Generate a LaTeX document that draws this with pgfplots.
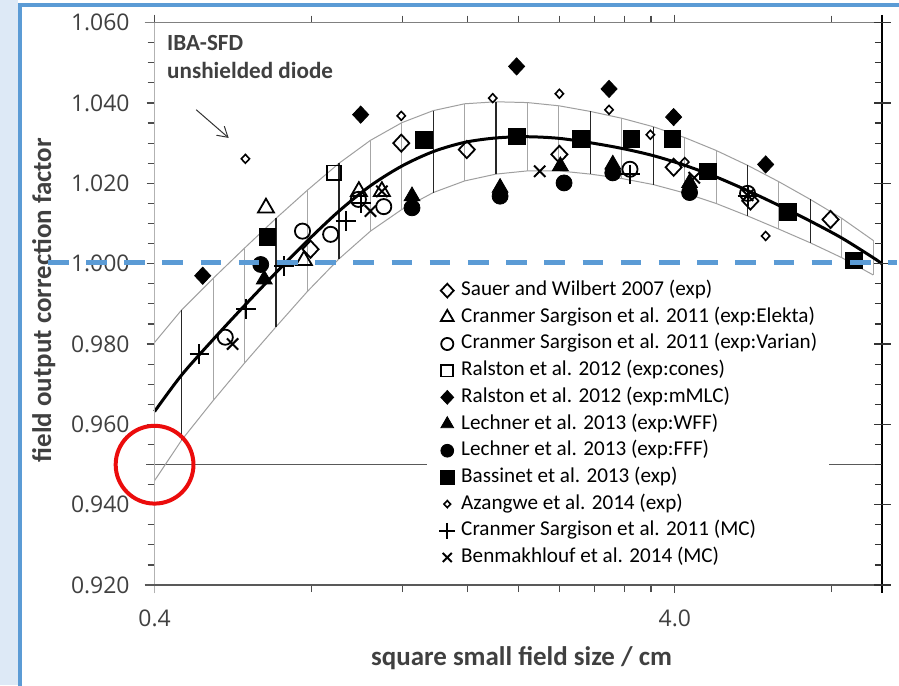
\documentclass[border=0pt]{standalone}
\usepackage{fontspec}
\setmainfont{Carlito}
\newfontfamily\tickfont{Open Sans}
\usepackage{pgfplots}
\pgfplotsset{compat=1.18}
\usepackage{pgfplotstable}
\usetikzlibrary{arrows.meta}

\definecolor{frameblue}{RGB}{91,155,213}
\definecolor{sideblue}{RGB}{221,233,246}
\definecolor{txtgray}{RGB}{64,64,64}
\definecolor{redring}{RGB}{235,12,12}

% fit curve, lower / upper limit of the band, half width
\pgfplotstableread{
x      c      lo     hi     h
0.400  0.9632 0.9460 0.9804 0.0172
0.451  0.9723 0.9561 0.9885 0.0162
0.519  0.9812 0.9660 0.9964 0.0152
0.596  0.9896 0.9753 1.0039 0.0143
0.685  0.9978 0.9843 1.0113 0.0135
0.787  1.0057 0.9931 1.0183 0.0126
0.905  1.0131 1.0012 1.0250 0.0119
1.040  1.0194 1.0081 1.0307 0.0113
1.195  1.0243 1.0135 1.0351 0.0108
1.373  1.0279 1.0177 1.0381 0.0102
1.578  1.0302 1.0206 1.0398 0.0096
1.813  1.0313 1.0223 1.0403 0.0090
2.084  1.0316 1.0231 1.0401 0.0085
2.395  1.0312 1.0231 1.0393 0.0081
2.752  1.0301 1.0223 1.0379 0.0078
3.163  1.0287 1.0212 1.0362 0.0075
3.635  1.0269 1.0197 1.0341 0.0072
4.177  1.0245 1.0176 1.0314 0.0069
4.800  1.0216 1.0150 1.0282 0.0066
5.517  1.0182 1.0119 1.0245 0.0063
6.340  1.0145 1.0086 1.0204 0.0059
7.286  1.0106 1.0052 1.0160 0.0054
8.373  1.0064 1.0015 1.0113 0.0049
9.622  1.0015 0.9972 1.0058 0.0043
}\band

\pgfplotsset{
  mk/.style={only marks, legend image code/.code={%
    \draw[##1, /tikz/every mark/.append style={scale=0.8}] plot coordinates {(0pt,0pt)};}},
  hatch/.style={draw=none, mark=none, forget plot,
    error bars/.cd, y dir=both, y explicit, error mark=none,
    error bar style={#1}},
}

\begin{document}
\begin{tikzpicture}
% pixel frame: (0,0) is the top left corner of the 899x687 picture
\begin{scope}[x=0.5pt,y=-0.5pt,shift={(-77.5pt,293.35pt)}]
  \path[use as bounding box] (0,0) rectangle (899,687);
  \fill[white] (0,0) rectangle (899,687);
  \fill[sideblue] (0,0) rectangle (18.5,687);
  \draw[frameblue, line width=1.75pt] (20,690) -- (20,5) -- (905,5);
  \draw[black!65, line width=0.6pt] (146.7,466) -- (884.3,466);
\end{scope}

\begin{axis}[
  at={(0pt,0pt)}, anchor=south west,
  scale only axis, width=364.65pt, height=282pt,
  xmode=log, xmin=0.4, xmax=10, ymin=0.92, ymax=1.06,
  xtick={0.4,4}, xticklabels={0.4,4.0},
  minor xtick={0.8,1.2,1.6,2,2.4,2.8,3.2,3.6,8},
  ytick={0.92,0.94,0.96,0.98,1.00,1.02,1.04,1.06},
  minor y tick num=3,
  ytick pos=left,
  axis line style={draw=none},
  tick align=outside, major tick length=4pt, minor tick length=3.5pt,
  tick style={black!70, line width=0.6pt},
  tick label style={font=\tickfont\fontsize{11.5}{13}\selectfont, text=txtgray},
  xticklabel style={yshift=-5pt},
  yticklabel style={xshift=-5pt},
  clip=false,
  legend cell align=left,
  legend style={at={(0.3745,0.5473)}, anchor=north west, draw=none, fill=white,
    font=\fontsize{10.6}{12}\selectfont, inner xsep=6pt, inner ysep=2pt,
    row sep=4.38pt,
    nodes={inner sep=0pt, text height=7pt, text depth=2pt},
    /tikz/every odd column/.append style={column sep=3pt}},
  /pgf/number format/fixed,
  /pgf/number format/fixed zerofill,
  /pgf/number format/precision=3,
  /pgf/number format/assume math mode=true,
]
% uncertainty band
\addplot[gray!75, line width=0.5pt, forget plot] table[x=x, y=hi] {\band};
\addplot[gray!75, line width=0.5pt, forget plot] table[x=x, y=lo] {\band};
\addplot[hatch={black!85, line width=0.6pt}] coordinates {
  (0.451,0.9723) +- (0,0.0162)  (0.685,0.9978) +- (0,0.0135)
  (0.905,1.0131) +- (0,0.0119)  (1.373,1.0279) +- (0,0.0102)
  (1.813,1.0313) +- (0,0.0090)  (2.752,1.0301) +- (0,0.0078)
  (3.635,1.0269) +- (0,0.0072)  (5.517,1.0182) +- (0,0.0063)
  (7.286,1.0106) +- (0,0.0054)};
\addplot[hatch={gray!70, line width=0.5pt}] coordinates {
  (0.519,0.9812) +- (0,0.0152)  (0.596,0.9896) +- (0,0.0143)
  (0.787,1.0057) +- (0,0.0126)  (1.040,1.0194) +- (0,0.0113)
  (1.195,1.0243) +- (0,0.0108)  (1.578,1.0302) +- (0,0.0096)
  (2.084,1.0316) +- (0,0.0085)  (2.395,1.0312) +- (0,0.0081)
  (3.163,1.0287) +- (0,0.0075)  (4.177,1.0245) +- (0,0.0069)
  (4.800,1.0216) +- (0,0.0066)  (6.340,1.0145) +- (0,0.0059)
  (8.373,1.0064) +- (0,0.0049)  (9.622,1.0015) +- (0,0.0043)};
% fit
\addplot[black, line width=1.5pt, smooth, forget plot] coordinates {
  (0.400,0.9632) (0.451,0.9723) (0.519,0.9812) (0.596,0.9896) (0.685,0.9978)
  (0.787,1.0057) (0.905,1.0131) (1.040,1.0194) (1.195,1.0243) (1.373,1.0279)
  (1.578,1.0302) (1.813,1.0313) (2.084,1.0316) (2.395,1.0312) (2.752,1.0301)
  (3.163,1.0287) (3.635,1.0269) (4.177,1.0245) (4.800,1.0216) (5.517,1.0182)
  (6.340,1.0145) (7.286,1.0106) (8.373,1.0064) (9.622,1.0015) (10.00,1.0000)};

% data sets
\addplot[mk, mark=diamond, mark size=4.3pt, mark options={xscale=1.25, black, line width=0.9pt}]
  coordinates {(0.798,1.0036) (1.192,1.0300) (1.593,1.0284) (2.40,1.0272) (3.98,1.0240) (5.59,1.0156) (7.97,1.0110)};
\addlegendentry{Sauer and Wilbert 2007 (exp)}
\addplot[mk, mark=triangle, mark size=4.6pt, mark options={black, line width=0.9pt}]
  coordinates {(0.655,1.0139) (0.775,1.0008) (0.988,1.0180) (1.094,1.0180)};
\addlegendentry{Cranmer Sargison et al. 2011 (exp:Elekta)}
\addplot[mk, mark=o, mark size=3.8pt, mark options={black, line width=0.9pt}]
  coordinates {(0.547,0.9817) (0.770,1.0081) (0.872,1.0073) (0.986,1.0160) (1.103,1.0142) (3.28,1.0235) (5.52,1.0175)};
\addlegendentry{Cranmer Sargison et al. 2011 (exp:Varian)}
\addplot[mk, mark=square, mark size=3.7pt, mark options={black, line width=0.9pt}]
  coordinates {(0.885,1.0226)};
\addlegendentry{Ralston et al. 2012 (exp:cones)}
\addplot[mk, mark=diamond*, mark size=4.3pt, mark options={xscale=1.25, black, fill=black}]
  coordinates {(0.495,0.9970) (0.996,1.0371) (1.986,1.0491) (2.99,1.0435) (3.98,1.0365) (5.98,1.0247)};
\addlegendentry{Ralston et al. 2012 (exp:mMLC)}
\addplot[mk, mark=triangle*, mark size=4.6pt, mark options={black, fill=black}]
  coordinates {(0.65,0.9961) (1.25,1.0168) (1.846,1.0189) (2.41,1.0243) (3.04,1.0247) (4.27,1.0201)};
\addlegendentry{Lechner et al. 2013 (exp:WFF)}
\addplot[mk, mark=*, mark size=4pt, mark options={black, fill=black}]
  coordinates {(0.64,0.9998) (1.25,1.0139) (1.846,1.0168) (2.45,1.0201) (3.04,1.0226) (4.27,1.0177)};
\addlegendentry{Lechner et al. 2013 (exp:FFF)}
\addplot[mk, mark=square*, mark size=4.2pt, mark options={black, fill=black}]
  coordinates {(0.659,1.0067) (1.316,1.0309) (1.986,1.0317) (2.639,1.0311) (3.30,1.0311) (3.96,1.0311) (4.63,1.0230) (6.60,1.0128) (8.84,1.0008)};
\addlegendentry{Bassinet et al. 2013 (exp)}
\addplot[mk, mark=diamond, mark size=2.2pt, mark options={xscale=1.25, black, line width=0.8pt}]
  coordinates {(0.598,1.0261) (1.192,1.0368) (1.787,1.0412) (2.40,1.0423) (2.99,1.0383) (3.59,1.0321) (4.18,1.0253) (5.98,1.0069)};
\addlegendentry{Azangwe et al. 2014 (exp)}
\addplot[mk, mark=+, mark size=5pt, mark options={black, line width=1pt}]
  coordinates {(0.488,0.9775) (0.600,0.9888) (0.710,0.9994) (0.932,1.0106) (0.996,1.0150) (3.28,1.0222) (5.52,1.0168)};
\addlegendentry{Cranmer Sargison et al. 2011 (MC)}
\addplot[mk, mark=x, mark size=4pt, mark options={black, line width=1pt}]
  coordinates {(0.565,0.9800) (1.04,1.0131) (1.094,1.0180) (2.20,1.0230) (4.36,1.0214) (5.52,1.0170)};
\addlegendentry{Benmakhlouf et al. 2014 (MC)}
\end{axis}

\begin{scope}[x=0.5pt,y=-0.5pt,shift={(-77.5pt,293.35pt)}]
  % axis lines
  \draw[black!30, line width=0.75pt] (155,22.7) -- (155,595);
  \draw[black!65, line width=1pt] (145,586.7) -- (884.3,586.7);
  \draw[black!50, line width=0.75pt] (145,22.7) -- (893,22.7);
  \draw[black, line width=0.8pt] (884.3,15) -- (884.3,595);
  % right hand ticks: 0.005 steps, crossing at 0.020 steps
  \foreach \k in {0,4,...,28} \draw[black!80, line width=0.6pt] (876.7,22.7+20.1429*\k) -- (893.3,22.7+20.1429*\k);
  \foreach \k in {1,2,3,5,6,7,9,10,11,13,14,15,17,18,19,21,22,23,25,26,27}
    \draw[black!80, line width=0.6pt] (877.3,22.7+20.1429*\k) -- (884.3,22.7+20.1429*\k);
  % titles and notes
  \node[rotate=90, font=\fontsize{13.5}{15}\selectfont\bfseries, text=txtgray] at (44,301) {field output correction factor};
  \node[font=\fontsize{13.5}{15}\selectfont\bfseries, text=txtgray] at (523,660) {square small field size / cm};
  \node[anchor=west, inner sep=0pt, font=\fontsize{11.6}{13}\selectfont\bfseries, text=txtgray] at (167.3,42.7) {IBA-SFD};
  \node[anchor=west, inner sep=0pt, font=\fontsize{11.6}{13}\selectfont\bfseries, text=txtgray] at (167.3,71) {unshielded diode};
  \draw[-{Straight Barb[length=5pt, width=6pt]}, black!80, line width=0.5pt] (196.7,110) -- (229.3,138.3);
  % highlights
  \draw[frameblue, line width=2.5pt, dash pattern=on 10.35pt off 8.8pt] (48,263.3) -- (899,263.3);
  \draw[redring, line width=2pt] (155,466) circle (39);
\end{scope}
\end{tikzpicture}
\end{document}
